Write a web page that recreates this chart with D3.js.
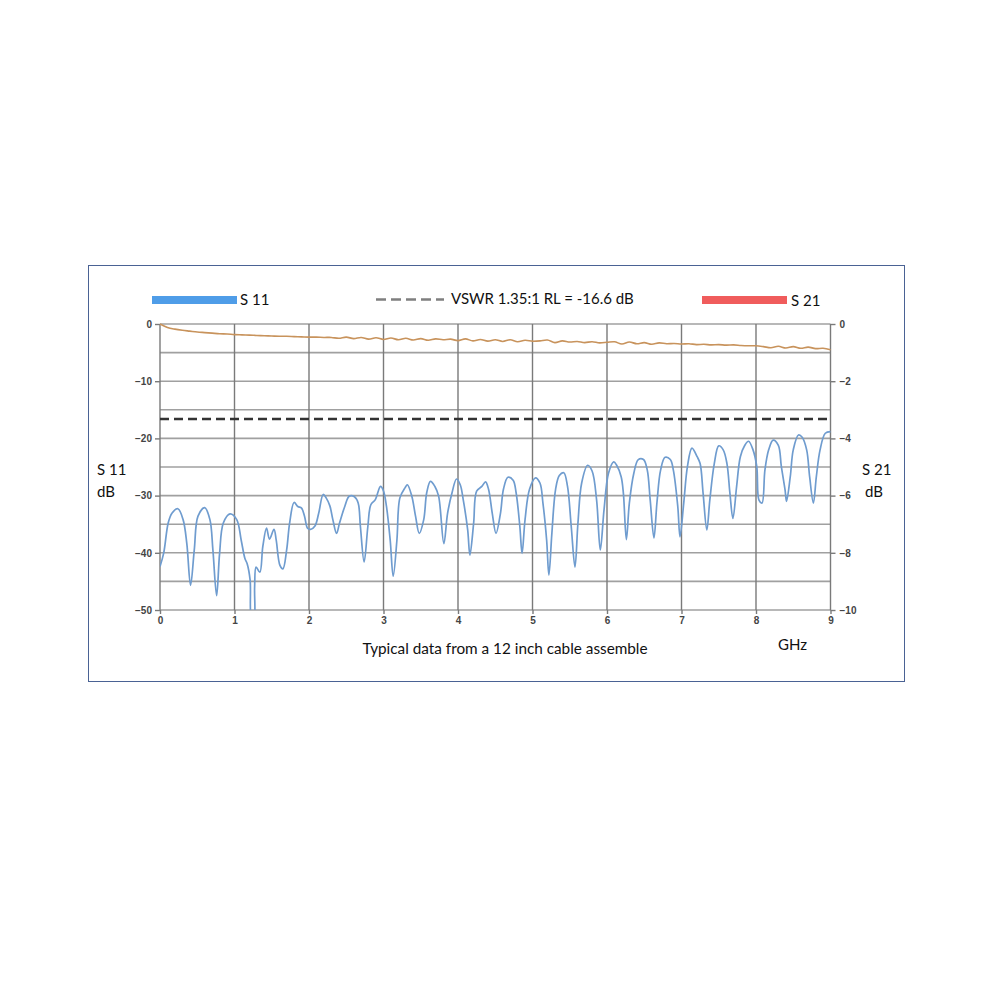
<!DOCTYPE html>
<html><head><meta charset="utf-8">
<script src="https://cdn.jsdelivr.net/npm/d3@7"></script>
<style>body{margin:0;background:#fff}svg{display:block}</style>
</head><body>
<svg id="c" width="1000" height="1000"></svg>
<script>
// ---- data ----
const xTicks = [0,1,2,3,4,5,6,7,8,9];
const s11Ticks = [0,-10,-20,-30,-40,-50];
const s21Ticks = [0,-2,-4,-6,-8,-10];
const s11GridLevels = [0,-5,-10,-15,-20,-25,-30,-35,-40,-45,-50];
const vswrLevel = -16.6;

const s11Freq = [0.00,0.05,0.11,0.16,0.24,0.31,0.36,0.41,0.46,0.51,0.60,0.67,0.71,0.76,0.80,0.85,0.94,1.03,1.09,1.14,1.17,1.21,1.23,1.26,1.27,1.29,1.34,1.38,1.43,1.47,1.53,1.56,1.61,1.65,1.70,1.74,1.80,1.85,1.90,1.94,1.98,2.02,2.08,2.13,2.19,2.23,2.28,2.32,2.37,2.41,2.48,2.54,2.61,2.66,2.69,2.74,2.79,2.83,2.89,2.96,3.00,3.04,3.09,3.13,3.18,3.22,3.29,3.32,3.38,3.43,3.48,3.54,3.58,3.63,3.69,3.74,3.81,3.86,3.92,3.98,4.03,4.07,4.13,4.16,4.21,4.25,4.32,4.37,4.41,4.46,4.51,4.57,4.61,4.67,4.74,4.78,4.83,4.86,4.90,4.96,5.04,5.10,5.14,5.19,5.22,5.26,5.31,5.36,5.42,5.47,5.52,5.57,5.61,5.66,5.74,5.80,5.86,5.91,5.96,6.02,6.09,6.13,6.19,6.22,6.26,6.30,6.36,6.42,6.49,6.54,6.58,6.63,6.67,6.72,6.78,6.85,6.89,6.95,6.98,7.03,7.08,7.14,7.21,7.25,7.29,7.34,7.38,7.44,7.50,7.56,7.61,7.65,7.69,7.74,7.79,7.85,7.90,7.96,8.01,8.04,8.08,8.12,8.17,8.23,8.30,8.34,8.39,8.41,8.46,8.50,8.57,8.62,8.68,8.72,8.77,8.81,8.86,8.93,9.00];
const s11Val = [-42.4,-40.0,-34.8,-33.1,-32.3,-34.2,-38.4,-45.7,-39.5,-33.6,-32.1,-34.2,-39.5,-47.5,-40.1,-34.8,-33.2,-34.2,-37.8,-41.0,-41.9,-44.8,-51.5,-51.5,-46.0,-42.5,-43.4,-38.9,-35.7,-37.6,-35.9,-37.8,-42.2,-42.8,-39.5,-34.8,-31.2,-31.9,-32.2,-33.6,-35.7,-35.9,-35.3,-33.1,-29.8,-30.4,-31.8,-34.2,-36.6,-34.8,-31.9,-30.1,-30.2,-31.3,-35.4,-41.6,-35.4,-31.6,-30.7,-28.4,-29.2,-31.9,-37.8,-44.1,-37.8,-30.4,-28.6,-28.1,-30.1,-33.6,-36.6,-34.2,-29.5,-27.5,-28.4,-30.1,-38.4,-33.1,-29.5,-27.1,-28.1,-30.7,-36.0,-40.4,-34.8,-29.2,-28.4,-27.6,-28.9,-33.1,-36.6,-33.1,-28.9,-26.8,-27.3,-29.5,-35.4,-40.1,-34.2,-28.9,-26.9,-27.8,-31.3,-37.8,-43.9,-36.6,-28.9,-26.5,-26.0,-28.4,-35.4,-42.5,-34.8,-27.8,-24.7,-25.7,-30.7,-39.5,-32.5,-26.1,-24.1,-24.7,-26.7,-29.6,-37.7,-31.3,-26.1,-23.7,-23.7,-25.5,-30.8,-37.4,-31.3,-25.5,-23.3,-23.7,-25.5,-31.9,-37.2,-31.3,-24.9,-21.7,-23.2,-24.4,-29.6,-36.0,-30.8,-24.4,-21.3,-22.0,-24.4,-29.6,-34.0,-28.4,-23.2,-21.2,-20.5,-22.0,-24.9,-30.8,-31.3,-25.5,-22.0,-20.3,-21.2,-24.9,-29.0,-31.0,-26.7,-22.0,-19.4,-19.8,-22.0,-26.7,-31.3,-26.7,-22.0,-19.1,-18.8];

const s21Freq = [0.0,0.1,0.2,0.3,0.4,0.5,0.6,0.7,0.8,0.9,1.0,1.1,1.2,1.3,1.4,1.5,1.6,1.7,1.8,1.9,2.0,2.1,2.2,2.3,2.4,2.5,2.6,2.7,2.8,2.9,3.0,3.1,3.2,3.3,3.4,3.5,3.6,3.7,3.8,3.9,4.0,4.1,4.2,4.3,4.4,4.5,4.6,4.7,4.8,4.9,5.0,5.1,5.2,5.3,5.4,5.5,5.6,5.7,5.8,5.9,6.0,6.1,6.2,6.3,6.4,6.5,6.6,6.7,6.8,6.9,7.0,7.1,7.2,7.3,7.4,7.5,7.6,7.7,7.8,7.9,8.0,8.1,8.2,8.3,8.4,8.5,8.6,8.7,8.8,8.9,9.0];
const s21Val = [0,-0.12,-0.18,-0.22,-0.25,-0.28,-0.30,-0.32,-0.34,-0.35,-0.37,-0.38,-0.39,-0.40,-0.41,-0.42,-0.43,-0.43,-0.44,-0.45,-0.46,-0.46,-0.47,-0.47,-0.50,-0.46,-0.51,-0.47,-0.53,-0.48,-0.54,-0.49,-0.55,-0.50,-0.56,-0.51,-0.57,-0.52,-0.55,-0.53,-0.58,-0.52,-0.59,-0.54,-0.60,-0.55,-0.61,-0.55,-0.62,-0.57,-0.60,-0.59,-0.56,-0.65,-0.59,-0.63,-0.61,-0.65,-0.62,-0.66,-0.64,-0.62,-0.70,-0.63,-0.69,-0.65,-0.71,-0.66,-0.69,-0.68,-0.70,-0.69,-0.72,-0.71,-0.73,-0.72,-0.74,-0.73,-0.75,-0.76,-0.76,-0.79,-0.83,-0.78,-0.84,-0.79,-0.85,-0.81,-0.86,-0.85,-0.90];

const legendLabels = ["S 11", "VSWR 1.35:1 RL = -16.6 dB", "S 21"];

// ---- layout ----
const svg = d3.select("#c");
const font = "Lato, 'Liberation Sans', sans-serif";
const L = 160, R = 830.5, T = 324, B = 610;
const x = d3.scaleLinear().domain([0,9]).range([L,R]);
const yL = d3.scaleLinear().domain([-50,0]).range([B,T]);
const yR = d3.scaleLinear().domain([-10,0]).range([B,T]);

// frame
svg.append("rect").attr("x",88.5).attr("y",265.5).attr("width",816).attr("height",416)
  .attr("fill","#fff").attr("stroke","#4a6294").attr("stroke-width",1);

// grid
const g = svg.append("g");
g.selectAll("line.h").data(s11GridLevels).join("line")
  .attr("x1",L).attr("x2",R).attr("y1",d=>yL(d)).attr("y2",d=>yL(d))
  .attr("stroke","#a0a0a0").attr("stroke-width",1.6);
g.selectAll("line.v").data(xTicks).join("line")
  .attr("x1",d=>x(d)).attr("x2",d=>x(d)).attr("y1",T).attr("y2",B)
  .attr("stroke","#7a7a7a").attr("stroke-width",1.4);

// axes
const tickStyle = sel => {
  sel.select(".domain").remove();
  sel.selectAll(".tick line").attr("stroke","#7a7a7a").attr("stroke-width",1.4);
  sel.selectAll(".tick text").attr("fill","#444").attr("font-family","'Liberation Sans', Arial, sans-serif")
    .attr("font-weight","bold").attr("font-size",10);
};
svg.append("g").attr("transform",`translate(${L},0)`)
  .call(d3.axisLeft(yL).tickValues(s11Ticks).tickSize(5).tickPadding(3).tickFormat(d3.format("d")))
  .call(tickStyle);
svg.append("g").attr("transform",`translate(${R},0)`)
  .call(d3.axisRight(yR).tickValues(s21Ticks).tickSize(5).tickPadding(4).tickFormat(d3.format("d")))
  .call(tickStyle);
svg.append("g").attr("transform",`translate(0,${B})`)
  .call(d3.axisBottom(x).tickValues(xTicks).tickSize(4).tickPadding(3).tickFormat(d3.format("d")))
  .call(tickStyle);

// clip
svg.append("clipPath").attr("id","pc").append("rect")
  .attr("x",L).attr("y",T-6).attr("width",R-L+2).attr("height",B-T+6);

// VSWR dashed line
svg.append("line").attr("x1",L).attr("x2",R-3).attr("y1",yL(vswrLevel)).attr("y2",yL(vswrLevel))
  .attr("stroke","#333").attr("stroke-width",2.6).attr("stroke-dasharray","9,5");

// S11
const s11Data = s11Freq.map((f,i)=>[f,s11Val[i]]);
svg.append("path").datum(s11Data).attr("clip-path","url(#pc)")
  .attr("fill","none").attr("stroke","#6f9ccf").attr("stroke-width",1.7)
  .attr("d", d3.line().x(d=>x(d[0])).y(d=>yL(d[1])).curve(d3.curveCatmullRom.alpha(0.5)));

// S21
const s21Data = s21Freq.map((f,i)=>[f,s21Val[i]]);
svg.append("path").datum(s21Data)
  .attr("fill","none").attr("stroke","#c8935c").attr("stroke-width",1.6)
  .attr("d", d3.line().x(d=>x(d[0])).y(d=>yR(d[1])).curve(d3.curveCatmullRom.alpha(0.5)));

// legend
svg.append("rect").attr("x",152).attr("y",296).attr("width",85).attr("height",8).attr("fill","#4f9de8");
svg.append("text").attr("x",240).attr("y",305).text(legendLabels[0]);
svg.append("line").attr("x1",376).attr("x2",444).attr("y1",299.5).attr("y2",299.5)
  .attr("stroke","#7f7f7f").attr("stroke-width",2.6).attr("stroke-dasharray","10,5");
svg.append("text").attr("x",451).attr("y",304).text(legendLabels[1]);
svg.append("rect").attr("x",702).attr("y",296).attr("width",85).attr("height",8).attr("fill","#f05c5c");
svg.append("text").attr("x",791).attr("y",306).text(legendLabels[2]);

// axis titles
svg.append("text").attr("x",97).attr("y",475).text("S 11");
svg.append("text").attr("x",97).attr("y",497).text("dB");
svg.append("text").attr("x",862).attr("y",475).text("S 21");
svg.append("text").attr("x",865).attr("y",497).text("dB");
svg.append("text").attr("x",505).attr("y",654).attr("text-anchor","middle").attr("class","cap").text("Typical data from a 12 inch cable assemble");
svg.append("text").attr("x",778).attr("y",650).text("GHz");

svg.selectAll("text").filter(function(){return !this.closest(".tick");})
  .attr("font-family",font).attr("font-size",15).attr("fill","#111");
svg.select("text.cap").attr("font-size",15.3);
</script>
</body></html>
